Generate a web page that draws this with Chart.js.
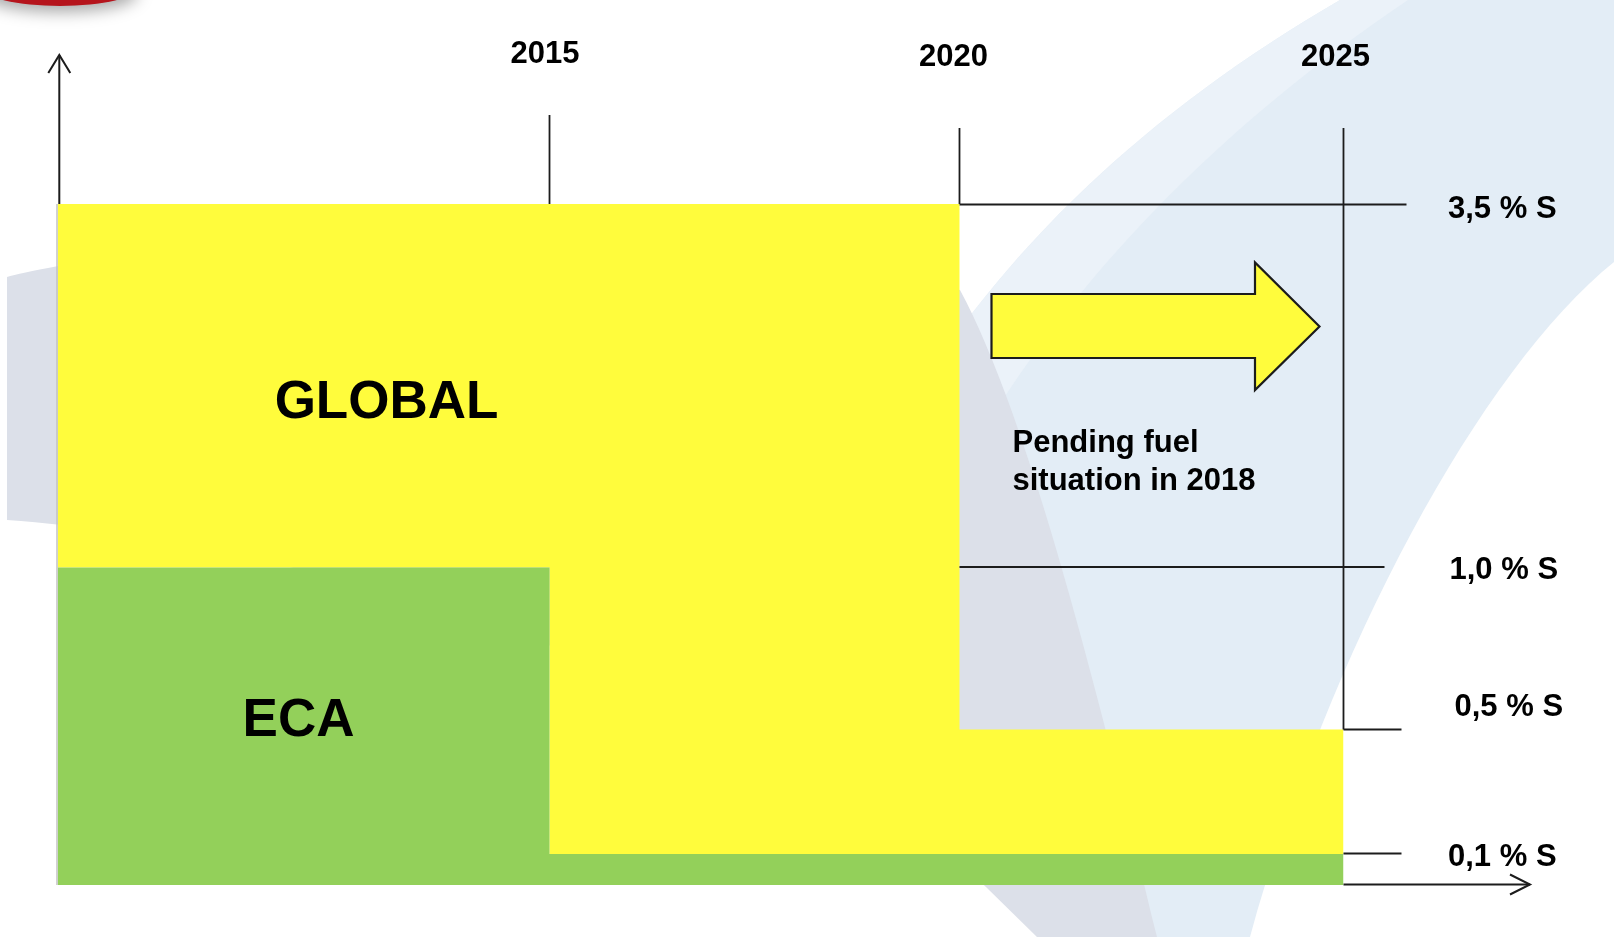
<!DOCTYPE html>
<html>
<head>
<meta charset="utf-8">
<script src="https://cdn.jsdelivr.net/npm/chart.js@4.4.1/dist/chart.umd.min.js"></script>
<style>
html,body{margin:0;padding:0;background:#fff;overflow:hidden}
canvas{display:block}
</style>
</head>
<body>
<canvas id="c" width="1614" height="937"></canvas>
<script>
// ---- Data (sulphur limits, % S) ----
const ecaYears = [2010, 2015, 2025];
const ecaLimits = [1.0, 0.1, 0.1];
const globalYears = [2010, 2020, 2025];
const globalLimits = [3.5, 0.5, 0.5];
const yearTicks = [2015, 2020, 2025];
const yearTickLabels = ['2015', '2020', '2025'];
const limitTicks = [3.5, 1.0, 0.5, 0.1];
const limitTickLabels = ['3,5 % S', '1,0 % S', '0,5 % S', '0,1 % S'];
const regionNames = ['ECA', 'GLOBAL'];
const noteLines = ['Pending fuel', 'situation in 2018'];

// ---- Piecewise (schematic) scale ----
function pwForward(b, v) {
  let i = 1;
  while (i < b.length - 1 && v > b[i][0]) i++;
  const v0 = b[i-1][0], f0 = b[i-1][1], v1 = b[i][0], f1 = b[i][1];
  return f0 + (v - v0) * (f1 - f0) / (v1 - v0);
}
function pwInverse(b, f) {
  let i = 1;
  while (i < b.length - 1 && f > b[i][1]) i++;
  const v0 = b[i-1][0], f0 = b[i-1][1], v1 = b[i][0], f1 = b[i][1];
  return v0 + (f - f0) * (v1 - v0) / (f1 - f0);
}
class PiecewiseScale extends Chart.LinearScale {
  getPixelForValue(value) {
    const f = pwForward(this.options.breaks, value);
    return this.isHorizontal() ? this.left + f * this.width : this.bottom - f * this.height;
  }
  getValueForPixel(pixel) {
    const f = this.isHorizontal() ? (pixel - this.left) / this.width : (this.bottom - pixel) / this.height;
    return pwInverse(this.options.breaks, f);
  }
}
PiecewiseScale.id = 'piecewise';
PiecewiseScale.defaults = {};
Chart.register(PiecewiseScale);

const YELLOW = '#FFFC3C';
const GREEN = '#93D05A';
const INK = '#1c1c1c';
const FONT_S = 'bold 31px "Liberation Sans", Arial, sans-serif';
const FONT_L = 'bold 53px "Liberation Sans", Arial, sans-serif';

function drawBackground(ctx) {
  ctx.save();
  ctx.fillStyle = '#ffffff';
  ctx.fillRect(0, 0, 1614, 937);
  // light blue swoosh
  ctx.fillStyle = '#E3EDF6';
  ctx.beginPath();
  ctx.moveTo(1340, 0);
  ctx.bezierCurveTo(1150, 110, 1000, 250, 900, 420);
  ctx.lineTo(995, 885);
  ctx.lineTo(1048, 937);
  ctx.lineTo(1250, 937);
  ctx.bezierCurveTo(1330, 650, 1480, 370, 1614, 262);
  ctx.lineTo(1614, 0);
  ctx.closePath();
  ctx.fill();
  // lighter inner stripe
  ctx.fillStyle = '#EBF2F9';
  ctx.beginPath();
  ctx.moveTo(1340, 0);
  ctx.bezierCurveTo(1150, 110, 1000, 250, 900, 420);
  ctx.lineTo(990, 420);
  ctx.bezierCurveTo(1090, 260, 1230, 120, 1408, 0);
  ctx.closePath();
  ctx.fill();
  // grey swoosh
  ctx.fillStyle = '#DCE0E9';
  ctx.beginPath();
  ctx.moveTo(7, 277);
  ctx.bezierCurveTo(60, 262, 500, 180, 960, 290);
  ctx.bezierCurveTo(1030, 420, 1100, 700, 1157, 937);
  ctx.lineTo(1037, 937);
  ctx.lineTo(986, 887);
  ctx.bezierCurveTo(800, 700, 300, 540, 7, 520);
  ctx.closePath();
  ctx.fill();
  // red logo fragment top-left
  ctx.shadowColor = 'rgba(0,0,0,0.35)';
  ctx.shadowBlur = 16;
  ctx.shadowOffsetY = 6;
  ctx.fillStyle = '#B5141C';
  ctx.beginPath();
  ctx.ellipse(60, -13, 78, 19, 0, 0, Math.PI * 2);
  ctx.fill();
  ctx.restore();
}

function seg(ctx, x1, y1, x2, y2) {
  ctx.beginPath(); ctx.moveTo(x1, y1); ctx.lineTo(x2, y2); ctx.stroke();
}

const decor = {
  id: 'decor',
  beforeDraw(chart) { drawBackground(chart.ctx); },
  afterDatasetsDraw(chart) {
    const ctx = chart.ctx, ca = chart.chartArea;
    const xs = chart.scales.x, ys = chart.scales.y;
    const X = v => xs.getPixelForValue(v), Y = v => ys.getPixelForValue(v);
    const x0 = ecaYears[0];
    const xEnd = yearTicks[yearTicks.length - 1];
    ctx.save();
    // faint left edge of the regions
    ctx.strokeStyle = '#c2c2c2'; ctx.lineWidth = 1.5;
    seg(ctx, X(x0) - 0.5, Y(globalLimits[0]), X(x0) - 0.5, Y(0));
    ctx.strokeStyle = INK; ctx.lineWidth = 2;
    // y axis arrow
    const ax = X(x0) + 1.8;
    seg(ctx, ax, Y(globalLimits[0]), ax, ca.top + 1);
    ctx.beginPath();
    ctx.moveTo(ax - 11, ca.top + 19); ctx.lineTo(ax, ca.top + 1); ctx.lineTo(ax + 11, ca.top + 19);
    ctx.stroke();
    // x axis arrow
    const by = Y(0) - 0.5;
    seg(ctx, X(xEnd), by, ca.right, by);
    ctx.beginPath();
    ctx.moveTo(ca.right - 20, by - 10); ctx.lineTo(ca.right, by); ctx.lineTo(ca.right - 20, by + 10);
    ctx.stroke();
    // year tick lines
    const tickTop = [61, 74, 74];
    const tickEnd = [3.5, 3.5, 0.5];
    ctx.lineWidth = 1.8;
    yearTicks.forEach((yr, i) => seg(ctx, X(yr), ca.top + tickTop[i], X(yr), Y(tickEnd[i])));
    // limit lines
    const limFrom = [2020, 2020, 2025, 2025];
    const limExt = [63, 41, 58, 58];
    const limDy = [0.5, -0.5, 0, -0.5];
    limitTicks.forEach((v, i) => seg(ctx, X(limFrom[i]), Y(v) + limDy[i], X(xEnd) + limExt[i], Y(v) + limDy[i]));
    // block arrow
    const a0 = X(2020), aE = X(xEnd), ay = Y(3.5);
    ctx.fillStyle = YELLOW; ctx.lineWidth = 2.2; ctx.lineJoin = 'miter';
    ctx.beginPath();
    ctx.moveTo(a0 + 32, ay + 90);
    ctx.lineTo(aE - 88.5, ay + 90);
    ctx.lineTo(aE - 88.5, ay + 58.5);
    ctx.lineTo(aE - 24, ay + 122.5);
    ctx.lineTo(aE - 88.5, ay + 186);
    ctx.lineTo(aE - 88.5, ay + 154);
    ctx.lineTo(a0 + 32, ay + 154);
    ctx.closePath();
    ctx.fill(); ctx.stroke();
    // texts
    ctx.fillStyle = '#000';
    ctx.font = FONT_S;
    ctx.textAlign = 'center'; ctx.textBaseline = 'alphabetic';
    const yrDx = [-4.5, -6, -8];
    const yrBase = [63, 66, 66];
    yearTicks.forEach((yr, i) => ctx.fillText(yearTickLabels[i], X(yr) + yrDx[i], yrBase[i]));
    ctx.textAlign = 'left';
    const limX = [1448, 1449.5, 1454.5, 1448];
    const limBase = [13.5, 12, -14, 11.6];
    limitTicks.forEach((v, i) => ctx.fillText(limitTickLabels[i], limX[i], Y(v) + limBase[i]));
    ctx.fillText(noteLines[0], a0 + 53, ay + 247.7);
    ctx.fillText(noteLines[1], a0 + 53, ay + 286);
    ctx.font = FONT_L;
    ctx.textAlign = 'center';
    ctx.fillText(regionNames[1], X(x0) + 329, 418);
    ctx.fillText(regionNames[0], X(x0) + 241, 736);
    ctx.restore();
  }
};

new Chart(document.getElementById('c'), {
  type: 'line',
  data: {
    datasets: [
      {
        label: regionNames[0],
        data: ecaYears.map((x, i) => ({x: x, y: ecaLimits[i]})),
        stepped: true,
        fill: 'origin',
        backgroundColor: GREEN,
        borderColor: 'rgba(0,0,0,0)',
        borderWidth: 0,
        pointRadius: 0
      },
      {
        label: regionNames[1],
        data: globalYears.map((x, i) => ({x: x, y: globalLimits[i]})),
        stepped: true,
        fill: '-1',
        backgroundColor: YELLOW,
        borderColor: 'rgba(0,0,0,0)',
        borderWidth: 0,
        pointRadius: 0
      }
    ]
  },
  options: {
    responsive: false,
    animation: false,
    devicePixelRatio: 1,
    events: [],
    layout: { padding: { left: 57.5, top: 54, right: 84, bottom: 52 } },
    plugins: { legend: { display: false }, tooltip: { enabled: false } },
    scales: {
      x: {
        type: 'piecewise', min: 2010, max: 2030, display: false,
        breaks: [[2010, 0], [2015, 0.33413], [2020, 0.61256], [2025, 0.87334], [2030, 1]]
      },
      y: {
        type: 'piecewise', min: 0, max: 4.5, display: false,
        breaks: [[0, 0], [0.1, 0.0373], [0.5, 0.18712], [1.0, 0.38207], [3.5, 0.81949], [4.5, 1]]
      }
    }
  },
  plugins: [decor]
});
</script>
</body>
</html>
